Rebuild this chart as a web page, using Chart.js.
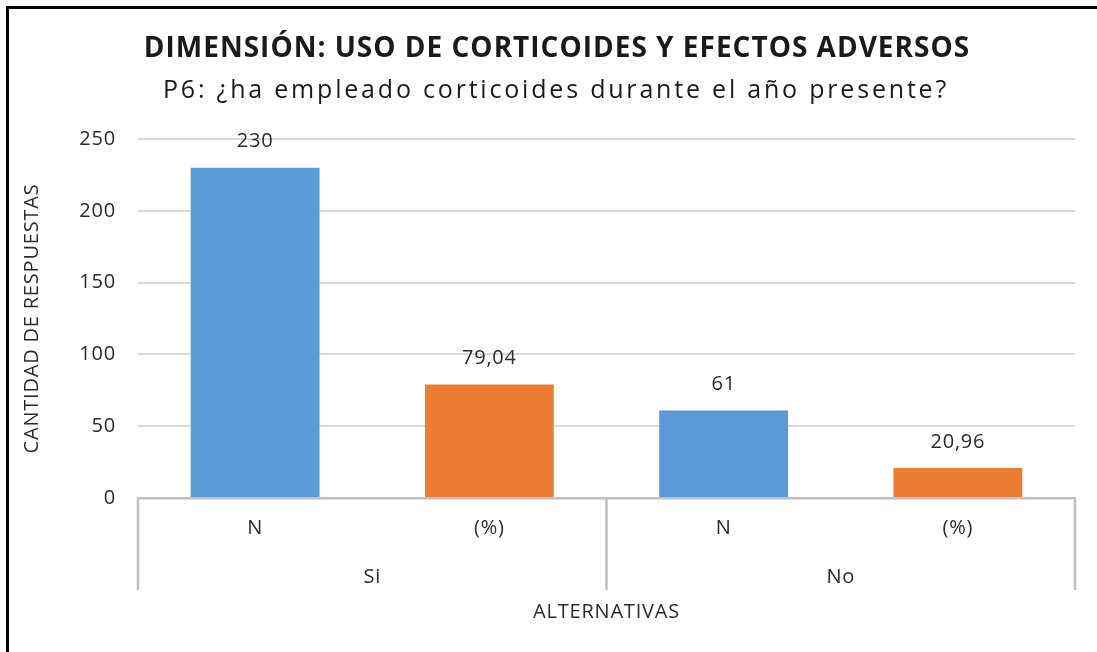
<!DOCTYPE html>
<html>
<head>
<meta charset="utf-8">
<script src="https://cdn.jsdelivr.net/npm/chart.js@4.4.1/dist/chart.umd.min.js"></script>
<style>
  html, body { margin: 0; padding: 0; background: #fff; overflow: hidden; }
  #wrap { position: relative; width: 1097px; height: 652px; }
  #frame { position: absolute; left: 6px; top: 6px; width: 1200px; height: 800px;
           border-top: 3px solid #000; border-left: 3px solid #000; pointer-events: none; }
</style>
</head>
<body>
<div id="wrap">
  <canvas id="chart" width="1097" height="652"></canvas>
  <div id="frame"></div>
</div>
<script>
// datos
const categories = ['N', '(%)', 'N', '(%)'];
const groups = ['Si', 'No'];
const values = [230, 79.04, 61, 20.96];
const barColors = ['#5b9bd5', '#ed7d31', '#5b9bd5', '#ed7d31'];
const yTicks = [0, 50, 100, 150, 200, 250];
const titleText = 'DIMENSIÓN: USO DE CORTICOIDES Y EFECTOS ADVERSOS';
const subtitleText = 'P6: ¿ha empleado corticoides durante el año presente?';

const FONT = '"Open Sans", sans-serif';
const TEXT = '#2b2b2b';

const formatValue = v => String(v).replace('.', ',');

// el texto del original esta algo espaciado
const spacing = {
    id: 'spacing',
    beforeDraw(chart) {
        chart.ctx.letterSpacing = '0.8px';
    }
};

// titulo y subtitulo (dibujados aparte para poder espaciar letras)
const titles = {
    id: 'titles',
    afterDraw(chart) {
        const ctx = chart.ctx;
        ctx.save();
        ctx.fillStyle = '#1a1a1a';
        ctx.textAlign = 'center';
        ctx.textBaseline = 'middle';
        ctx.font = 'bold 28px ' + FONT;
        ctx.letterSpacing = '1px';
        ctx.fillText(titleText, 557, 49);
        ctx.font = '25px ' + FONT;
        ctx.letterSpacing = '2.8px';
        ctx.fillText(subtitleText, 556, 91);
        ctx.restore();
    }
};

// etiquetas de valor encima de cada barra
const valueLabels = {
    id: 'valueLabels',
    afterDatasetsDraw(chart) {
        const ctx = chart.ctx;
        const meta = chart.getDatasetMeta(0);
        ctx.save();
        ctx.font = '20px ' + FONT;
        ctx.fillStyle = TEXT;
        ctx.textAlign = 'center';
        ctx.textBaseline = 'middle';
        meta.data.forEach((bar, i) => {
            ctx.fillText(formatValue(values[i]), bar.x, bar.y - 26);
        });
        ctx.restore();
    }
};

// segundo nivel del eje X (Si / No) con sus separadores
const groupAxis = {
    id: 'groupAxis',
    afterDraw(chart) {
        const ctx = chart.ctx;
        const x = chart.scales.x;
        const bottom = chart.chartArea.bottom;
        const perGroup = categories.length / groups.length;
        const half = (x.getPixelForValue(1) - x.getPixelForValue(0)) / 2;
        ctx.save();
        ctx.strokeStyle = '#c0c0c0';
        ctx.lineWidth = 2.5;
        for (let g = 0; g <= groups.length; g++) {
            let px;
            if (g < groups.length) px = x.getPixelForValue(g * perGroup) - half;
            else px = x.getPixelForValue(categories.length - 1) + half;
            ctx.beginPath();
            ctx.moveTo(px, bottom);
            ctx.lineTo(px, bottom + 92);
            ctx.stroke();
        }
        ctx.font = '20px ' + FONT;
        ctx.fillStyle = TEXT;
        ctx.textAlign = 'center';
        ctx.textBaseline = 'middle';
        groups.forEach((name, g) => {
            const a = x.getPixelForValue(g * perGroup);
            const b = x.getPixelForValue(g * perGroup + perGroup - 1);
            ctx.fillText(name, (a + b) / 2, bottom + 79);
        });
        ctx.restore();
    }
};

new Chart(document.getElementById('chart').getContext('2d'), {
    type: 'bar',
    data: {
        labels: categories,
        datasets: [{
            data: values,
            backgroundColor: barColors,
            borderWidth: 0,
            categoryPercentage: 1,
            barPercentage: 0.55
        }]
    },
    options: {
        responsive: false,
        animation: false,
        layout: { padding: { left: 0, right: 22, top: 139, bottom: 0 } },
        plugins: {
            legend: { display: false },
            tooltip: { enabled: false },
            title: { display: false }
        },
        scales: {
            x: {
                grid: { display: false, drawTicks: false },
                border: { display: true, color: '#c0c0c0', width: 2.5 },
                ticks: { color: TEXT, font: { family: FONT, size: 20 }, padding: 18 },
                title: {
                    display: true,
                    text: 'ALTERNATIVAS',
                    color: TEXT,
                    font: { family: FONT, size: 20 },
                    padding: { top: 0, bottom: 28 }
                },
                afterFit(scale) { scale.height = 154; }
            },
            y: {
                min: 0,
                max: 250,
                afterBuildTicks(scale) { scale.ticks = yTicks.map(v => ({ value: v })); },
                grid: { color: '#d9d9d9', lineWidth: 2, drawTicks: false },
                border: { display: false },
                ticks: { color: TEXT, font: { family: FONT, size: 20 }, padding: 22 },
                title: {
                    display: true,
                    text: 'CANTIDAD DE RESPUESTAS',
                    color: TEXT,
                    font: { family: FONT, size: 20 },
                    padding: { top: 20, bottom: 0 }
                },
                afterFit(scale) { scale.width = 138; }
            }
        }
    },
    plugins: [spacing, valueLabels, groupAxis, titles]
});
</script>
</body>
</html>
